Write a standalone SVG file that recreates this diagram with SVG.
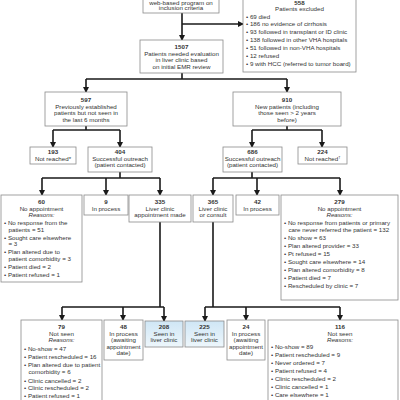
<svg xmlns="http://www.w3.org/2000/svg" width="400" height="400" viewBox="0 0 400 400">
<defs>
<marker id="ah" markerWidth="6" markerHeight="6" refX="5" refY="3" orient="auto" markerUnits="userSpaceOnUse">
<path d="M0,0 L6,3 L0,6 Z" fill="#1a1a1a"/>
</marker>
<linearGradient id="blue" x1="0" y1="0" x2="0" y2="1">
<stop offset="0" stop-color="#cfe6f5"/>
<stop offset="1" stop-color="#eef7fc"/>
</linearGradient>
<style>
.box{fill:#fff;stroke:#8a8a8a;stroke-width:0.8}
.bl{fill:url(#blue);stroke:#8a8a8a;stroke-width:0.8}
text{font-family:"Liberation Sans",Arial,sans-serif;font-size:6.2px;fill:#333}
.c{text-anchor:middle}
.b{font-weight:bold}
.i{font-style:italic}
.ln{fill:none;stroke:#1a1a1a;stroke-width:1.6}
.ar{fill:none;stroke:#1a1a1a;stroke-width:1.6;marker-end:url(#ah)}
</style>
</defs>
<g id="connectors">
<path class="ar" d="M182,13 V40"/>
<path class="ar" d="M182,24 H243"/>
<path class="ln" d="M182,73 V79 M86,79 H287"/>
<path class="ar" d="M86,79 V92"/>
<path class="ar" d="M287,79 V92"/>
<path class="ln" d="M86,126 V130 M53,130 H120"/>
<path class="ar" d="M53,130 V147"/>
<path class="ar" d="M120,130 V147"/>
<path class="ln" d="M287,126 V130 M252,130 H322"/>
<path class="ar" d="M252,130 V147"/>
<path class="ar" d="M322,130 V147"/>
<path class="ln" d="M120,172 V178 M42,178 H160"/>
<path class="ar" d="M42,178 V195"/>
<path class="ar" d="M106,178 V195"/>
<path class="ar" d="M160,178 V195"/>
<path class="ln" d="M252,172 V178 M213,178 H340"/>
<path class="ar" d="M213,178 V195"/>
<path class="ar" d="M257,178 V195"/>
<path class="ar" d="M340,178 V195"/>
<path class="ln" d="M160,222 V307 M62,307 H164"/>
<path class="ar" d="M62,307 V320"/>
<path class="ar" d="M123,307 V320"/>
<path class="ar" d="M164,307 V321"/>
<path class="ln" d="M213,222 V307 M205,307 H340"/>
<path class="ar" d="M205,307 V321"/>
<path class="ar" d="M246,307 V320"/>
<path class="ar" d="M340,307 V320"/>
</g>
<g id="n_identified">
<rect class="box" x="143" y="-10" width="76" height="23"/>
<text class="c" x="181" y="4.6">web-based program on</text>
<text class="c" x="181" y="10.4">inclusion criteria</text>
</g>
<g id="n_excluded">
<rect class="box" x="243" y="-10" width="113" height="82"/>
<text class="c b" x="299.5" y="4.7" font-size="5">558</text>
<text class="c" x="299.5" y="11.4">Patients excluded</text>
<text x="246" y="18.6">• 69 died</text>
<text x="246" y="26.3">• 186 no evidence of cirrhosis</text>
<text x="246" y="34">• 93 followed in transplant or ID clinic</text>
<text x="246" y="42">• 138 followed in other VHA hospitals</text>
<text x="246" y="50">• 51 followed in non-VHA hospitals</text>
<text x="246" y="58">• 12 refused</text>
<text x="246" y="66">• 9 with HCC (referred to tumor board)</text>
</g>
<g id="n_1507">
<rect class="box" x="140" y="40" width="83" height="33"/>
<text class="c b" x="181.5" y="49">1507</text>
<text class="c" x="181.5" y="55.5">Patients needed evaluation</text>
<text class="c" x="181.5" y="62">in liver clinic based</text>
<text class="c" x="181.5" y="68.5">on initial EMR review</text>
</g>
<g id="n_597">
<rect class="box" x="45" y="92" width="82" height="34"/>
<text class="c b" x="86" y="102">597</text>
<text class="c" x="86" y="108.5">Previously established</text>
<text class="c" x="86" y="115">patients but not seen in</text>
<text class="c" x="86" y="121.5">the last 6 months</text>
</g>
<g id="n_910">
<rect class="box" x="233" y="92" width="108" height="34"/>
<text class="c b" x="287" y="102">910</text>
<text class="c" x="287" y="108.5">New patients (including</text>
<text class="c" x="287" y="115">those seen &gt; 2 years</text>
<text class="c" x="287" y="121.5">before)</text>
</g>
<g id="n_193">
<rect class="box" x="30" y="147" width="46" height="17"/>
<text class="c b" x="53" y="154">193</text>
<text class="c" x="53" y="160.5">Not reached*</text>
</g>
<g id="n_404">
<rect class="box" x="88" y="147" width="64" height="25"/>
<text class="c b" x="120" y="154">404</text>
<text class="c" x="120" y="160.5">Successful outreach</text>
<text class="c" x="120" y="167">(patient contacted)</text>
</g>
<g id="n_686">
<rect class="box" x="223" y="147" width="59" height="25"/>
<text class="c b" x="252.5" y="154">686</text>
<text class="c" x="252.5" y="160.5">Successful outreach</text>
<text class="c" x="252.5" y="167">(patient contacted)</text>
</g>
<g id="n_224">
<rect class="box" x="298" y="147" width="49" height="17"/>
<text class="c b" x="322.5" y="154">224</text>
<text class="c" x="322.5" y="160.5">Not reached<tspan font-size="4" dy="-2">†</tspan></text>
</g>
<g id="n_60">
<rect class="box" x="1" y="195" width="81" height="87"/>
<text class="c b" x="41.5" y="204">60</text>
<text class="c" x="41.5" y="210.5">No appointment</text>
<text class="c i" x="41.5" y="217">Reasons:</text>
<text x="4" y="225">• No response from the</text>
<text x="8.5" y="231.5">patients = 51</text>
<text x="4" y="239.5">• Sought care elsewhere</text>
<text x="8.5" y="246">= 3</text>
<text x="4" y="254">• Plan altered due to</text>
<text x="8.5" y="260.5">patient comorbidity = 3</text>
<text x="4" y="268.5">• Patient died = 2</text>
<text x="4" y="276.5">• Patient refused = 1</text>
</g>
<g id="n_9">
<rect class="box" x="84" y="195" width="44" height="20"/>
<text class="c b" x="106" y="204">9</text>
<text class="c" x="106" y="211">In process</text>
</g>
<g id="n_335">
<rect class="box" x="129" y="195" width="62" height="27"/>
<text class="c b" x="160" y="204">335</text>
<text class="c" x="160" y="210.5">Liver clinic</text>
<text class="c" x="160" y="217">appointment made</text>
</g>
<g id="n_365">
<rect class="box" x="193" y="195" width="40" height="27"/>
<text class="c b" x="213" y="204">365</text>
<text class="c" x="213" y="210.5">Liver clinic</text>
<text class="c" x="213" y="217">or consult</text>
</g>
<g id="n_42">
<rect class="box" x="236" y="195" width="43" height="20"/>
<text class="c b" x="257.5" y="204">42</text>
<text class="c" x="257.5" y="211">In process</text>
</g>
<g id="n_279">
<rect class="box" x="281" y="195" width="117" height="105"/>
<text class="c b" x="339.5" y="204">279</text>
<text class="c" x="339.5" y="210.5">No appointment</text>
<text class="c i" x="339.5" y="217">Reasons:</text>
<text x="284" y="225">• No response from patients or primary</text>
<text x="288.5" y="231.5">care never referred the patient = 132</text>
<text x="284" y="239.5">• No show = 63</text>
<text x="284" y="247.5">• Plan altered provider = 33</text>
<text x="284" y="255.5">• Pt refused = 15</text>
<text x="284" y="263.5">• Sought care elsewhere = 14</text>
<text x="284" y="271.5">• Plan altered comorbidity = 8</text>
<text x="284" y="279.5">• Patient died = 7</text>
<text x="284" y="287.5">• Rescheduled by clinic = 7</text>
</g>
<g id="n_79">
<rect class="box" x="21" y="320" width="81" height="85"/>
<text class="c b" x="61.5" y="329">79</text>
<text class="c" x="61.5" y="335.5">Not seen</text>
<text class="c i" x="61.5" y="342">Reasons:</text>
<text x="24" y="351">• No-show = 47</text>
<text x="24" y="359">• Patient rescheduled = 16</text>
<text x="24" y="367">• Plan altered due to patient</text>
<text x="28.5" y="373.5">comorbidity = 6</text>
<text x="24" y="382.5">• Clinic cancelled = 2</text>
<text x="24" y="390">• Clinic rescheduled = 2</text>
<text x="24" y="398">• Patient refused = 1</text>
</g>
<g id="n_48">
<rect class="box" x="104" y="320" width="39" height="40"/>
<text class="c b" x="123.5" y="329">48</text>
<text class="c" x="123.5" y="335.5">In process</text>
<text class="c" x="123.5" y="342">(awaiting</text>
<text class="c" x="123.5" y="348.5">appointment</text>
<text class="c" x="123.5" y="355">date)</text>
</g>
<g id="n_208">
<rect class="bl" x="145" y="321" width="38" height="26"/>
<text class="c b" x="164" y="329">208</text>
<text class="c" x="164" y="335.5">Seen in</text>
<text class="c" x="164" y="342">liver clinic</text>
</g>
<g id="n_225">
<rect class="bl" x="185" y="321" width="39" height="26"/>
<text class="c b" x="204.5" y="329">225</text>
<text class="c" x="204.5" y="335.5">Seen in</text>
<text class="c" x="204.5" y="342">liver clinic</text>
</g>
<g id="n_24">
<rect class="box" x="227" y="320" width="38" height="40"/>
<text class="c b" x="246" y="329">24</text>
<text class="c" x="246" y="335.5">In process</text>
<text class="c" x="246" y="342">(awaiting</text>
<text class="c" x="246" y="348.5">appointment</text>
<text class="c" x="246" y="355">date)</text>
</g>
<g id="n_116">
<rect class="box" x="268" y="320" width="130" height="85"/>
<text class="c b" x="340" y="329">116</text>
<text class="c" x="340" y="335.5">Not seen</text>
<text class="c i" x="340" y="342">Reasons:</text>
<text x="271" y="349">• No-show = 89</text>
<text x="271" y="357">• Patient rescheduled = 9</text>
<text x="271" y="365">• Never ordered = 7</text>
<text x="271" y="373">• Patient refused = 4</text>
<text x="271" y="381">• Clinic rescheduled = 2</text>
<text x="271" y="389">• Clinic cancelled = 1</text>
<text x="271" y="397">• Care elsewhere = 1</text>
</g>
</svg>
